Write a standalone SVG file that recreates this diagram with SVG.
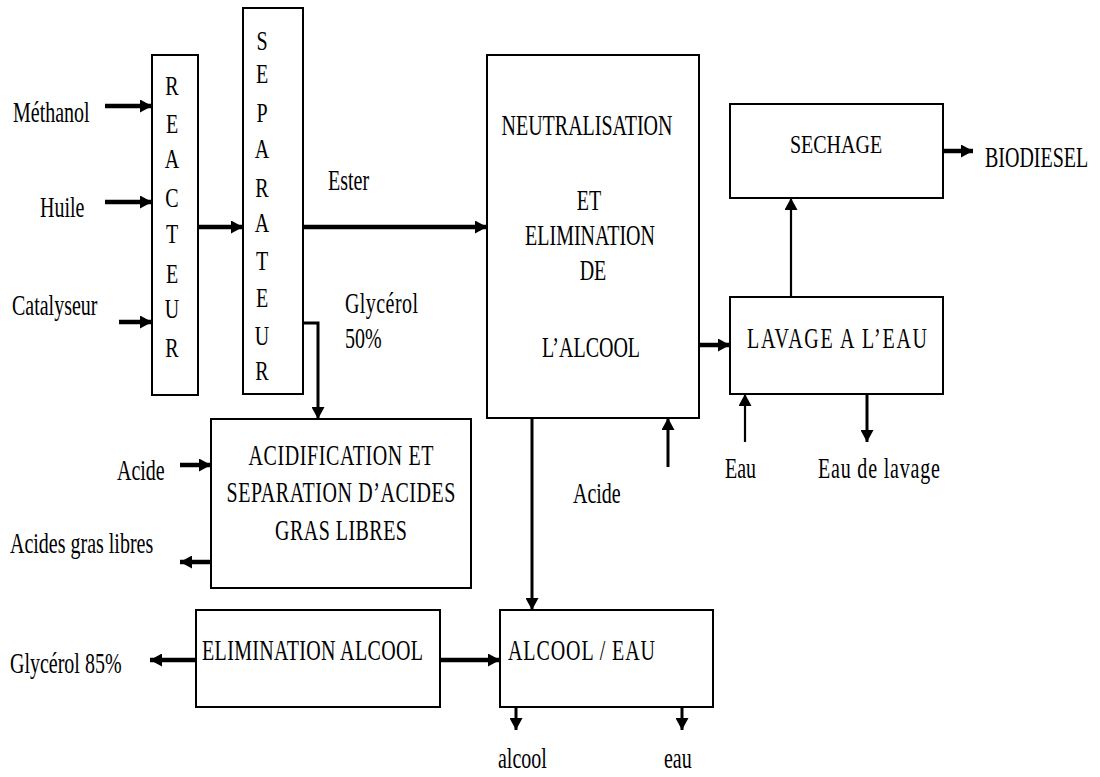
<svg xmlns="http://www.w3.org/2000/svg" width="1100" height="777" viewBox="0 0 1100 777">
<style>
  .box { fill: #fff; stroke: #000; stroke-width: 2; }
  .t { font-family: "Liberation Serif", "Times New Roman", serif; font-size: 20px; fill: #000; }
  .m { text-anchor: middle; }
  .thick { stroke: #000; stroke-width: 4.5; fill: none; marker-end: url(#ah); }
  .med { stroke: #000; stroke-width: 3; fill: none; marker-end: url(#ah); }
  .thin { stroke: #000; stroke-width: 2.2; fill: none; marker-end: url(#ah); }
</style>
<defs>
  <marker id="ah" markerUnits="userSpaceOnUse" markerWidth="12" markerHeight="13" refX="12" refY="6.5" orient="auto">
    <path d="M0,0 L12,6.5 L0,13 z" fill="#000"/>
  </marker>
</defs>
<rect width="1100" height="777" fill="#fff"/>

<g id="connectors">
  <line class="thick" x1="105" y1="106" x2="152" y2="106"/>
  <line class="thick" x1="105" y1="202" x2="152" y2="202"/>
  <line class="thick" x1="119" y1="322" x2="152" y2="322"/>
  <line class="thick" x1="198" y1="227" x2="243" y2="227"/>
  <line class="thick" x1="303" y1="227" x2="487" y2="227"/>
  <polyline class="med" points="303,323 318,323 318,419"/>
  <line class="med" x1="532" y1="418" x2="532" y2="610"/>
  <line class="med" x1="668" y1="467" x2="668" y2="418"/>
  <line class="thick" x1="699" y1="345" x2="730" y2="345"/>
  <line class="thin" x1="791" y1="297" x2="791" y2="198"/>
  <line class="thick" x1="943" y1="151" x2="973" y2="151"/>
  <line class="thin" x1="745" y1="442" x2="745" y2="394"/>
  <line class="med" x1="867" y1="394" x2="867" y2="442"/>
  <line class="thick" x1="180" y1="465" x2="211" y2="465"/>
  <line class="thick" x1="211" y1="562" x2="180" y2="562"/>
  <line class="thick" x1="196" y1="660" x2="150" y2="660"/>
  <line class="thick" x1="440" y1="660" x2="500" y2="660"/>
  <line class="med" x1="516" y1="707" x2="516" y2="730"/>
  <line class="med" x1="682" y1="707" x2="682" y2="730"/>
</g>

<g id="labels">
  <text class="t" transform="translate(13,122) scale(1,1.45)">Méthanol</text>
  <text class="t" transform="translate(40,217) scale(1,1.45)">Huile</text>
  <text class="t" transform="translate(12,315) scale(1,1.45)">Catalyseur</text>
  <text class="t" transform="translate(328,190) scale(1,1.45)">Ester</text>
  <text class="t" transform="translate(345,313) scale(1,1.45)" textLength="73">Glycérol</text>
  <text class="t" transform="translate(345,348) scale(1,1.45)">50%</text>
  <text class="t" transform="translate(117,480) scale(1,1.45)">Acide</text>
  <text class="t" transform="translate(10,553) scale(1,1.45)">Acides gras libres</text>
  <text class="t" transform="translate(10,673) scale(1,1.45)">Glycérol 85%</text>
  <text class="t" transform="translate(573,503) scale(1,1.45)">Acide</text>
  <text class="t" transform="translate(725,478) scale(1,1.45)">Eau</text>
  <text class="t" transform="translate(818,478) scale(1,1.45)" textLength="122">Eau de lavage</text>
  <text class="t" transform="translate(498,768) scale(1,1.45)">alcool</text>
  <text class="t" transform="translate(664,768) scale(1,1.45)">eau</text>
  <text class="t" transform="translate(985,167) scale(1,1.45)">BIODIESEL</text>
</g>

<g id="reacteur">
  <rect class="box" x="152" y="55" width="46" height="340"/>
  <text class="t m" transform="translate(172,95) scale(1,1.4)">R</text>
  <text class="t m" transform="translate(172,133) scale(1,1.4)">E</text>
  <text class="t m" transform="translate(172,168) scale(1,1.4)">A</text>
  <text class="t m" transform="translate(172,207) scale(1,1.4)">C</text>
  <text class="t m" transform="translate(172,243) scale(1,1.4)">T</text>
  <text class="t m" transform="translate(172,283) scale(1,1.4)">E</text>
  <text class="t m" transform="translate(172,318) scale(1,1.4)">U</text>
  <text class="t m" transform="translate(172,357) scale(1,1.4)">R</text>
</g>

<g id="separateur">
  <rect class="box" x="243" y="8" width="60" height="386"/>
  <text class="t m" transform="translate(262,50) scale(1,1.4)">S</text>
  <text class="t m" transform="translate(262,83) scale(1,1.4)">E</text>
  <text class="t m" transform="translate(262,122) scale(1,1.4)">P</text>
  <text class="t m" transform="translate(262,158) scale(1,1.4)">A</text>
  <text class="t m" transform="translate(262,197) scale(1,1.4)">R</text>
  <text class="t m" transform="translate(262,232) scale(1,1.4)">A</text>
  <text class="t m" transform="translate(262,270) scale(1,1.4)">T</text>
  <text class="t m" transform="translate(262,307) scale(1,1.4)">E</text>
  <text class="t m" transform="translate(262,345) scale(1,1.4)">U</text>
  <text class="t m" transform="translate(262,380) scale(1,1.4)">R</text>
</g>

<g id="neutralisation">
  <rect class="box" x="487" y="55" width="212" height="363"/>
  <text class="t m" transform="translate(587,135) scale(1,1.45)">NEUTRALISATION</text>
  <text class="t m" transform="translate(589,210) scale(1,1.45)">ET</text>
  <text class="t m" transform="translate(590,245) scale(1,1.45)">ELIMINATION</text>
  <text class="t m" transform="translate(593,280) scale(1,1.45)">DE</text>
  <text class="t m" transform="translate(591,357) scale(1,1.45)">L’ALCOOL</text>
</g>

<g id="sechage">
  <rect class="box" x="730" y="104" width="213" height="94"/>
  <text class="t m" transform="translate(836,153) scale(1,1.3)">SECHAGE</text>
</g>

<g id="lavage">
  <rect class="box" x="730" y="297" width="213" height="97"/>
  <text class="t m" transform="translate(837,348) scale(1,1.45)" textLength="180">LAVAGE A L’EAU</text>
</g>

<g id="acidification">
  <rect class="box" x="211" y="419" width="260" height="169"/>
  <text class="t m" transform="translate(341,465) scale(1,1.45)" textLength="185">ACIDIFICATION ET</text>
  <text class="t m" transform="translate(341,502) scale(1,1.45)" textLength="229">SEPARATION D’ACIDES</text>
  <text class="t m" transform="translate(341,540) scale(1,1.45)" textLength="132">GRAS LIBRES</text>
</g>

<g id="elimination-alcool">
  <rect class="box" x="196" y="610" width="244" height="97"/>
  <text class="t" transform="translate(202,660) scale(1,1.45)" textLength="221">ELIMINATION ALCOOL</text>
</g>

<g id="alcool-eau">
  <rect class="box" x="500" y="610" width="213" height="97"/>
  <text class="t" transform="translate(508,660) scale(1,1.45)" textLength="147">ALCOOL / EAU</text>
</g>
</svg>
